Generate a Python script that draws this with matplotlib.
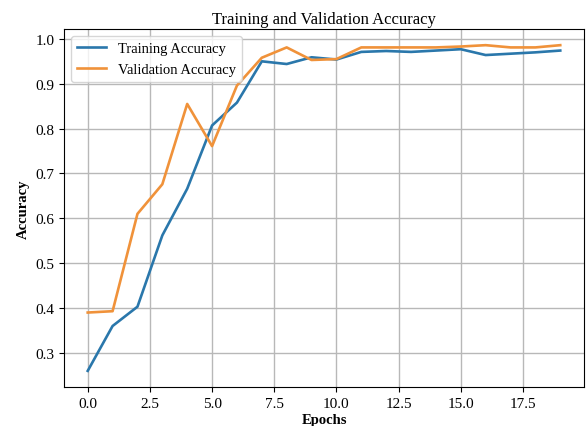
import matplotlib
matplotlib.use("Agg")
import matplotlib.pyplot as plt

epochs = list(range(20))
train_acc = [0.260, 0.360, 0.403, 0.562, 0.666, 0.807, 0.858, 0.950, 0.944, 0.959,
             0.954, 0.971, 0.973, 0.971, 0.974, 0.977, 0.964, 0.967, 0.970, 0.974]
val_acc = [0.390, 0.393, 0.610, 0.676, 0.855, 0.761, 0.896, 0.958, 0.981, 0.953,
           0.955, 0.981, 0.981, 0.981, 0.981, 0.983, 0.986, 0.981, 0.981, 0.986]

plt.rcParams['font.family'] = ['Liberation Serif', 'DejaVu Serif']
plt.rcParams['font.size'] = 11

fig = plt.figure(figsize=(5.88, 4.27), dpi=100)
ax = fig.add_axes([0.109, 0.091, 0.884, 0.839])
ax.plot(epochs, train_acc, color='#2a77ab', lw=1.9, label='Training Accuracy')
ax.plot(epochs, val_acc, color='#f0923a', lw=1.9, label='Validation Accuracy')
ax.set_title('Training and Validation Accuracy', fontsize=12, pad=4)
ax.set_xlabel('Epochs', fontweight='bold', fontsize=10.5, labelpad=2)
ax.set_ylabel('Accuracy', fontweight='bold', fontsize=10.5)
ax.grid(True, color='#b8b8b8', lw=1.0)
ax.set_axisbelow(True)
ax.legend(loc='upper left', fontsize=10.5)
fig.savefig('out.png', dpi=100)
